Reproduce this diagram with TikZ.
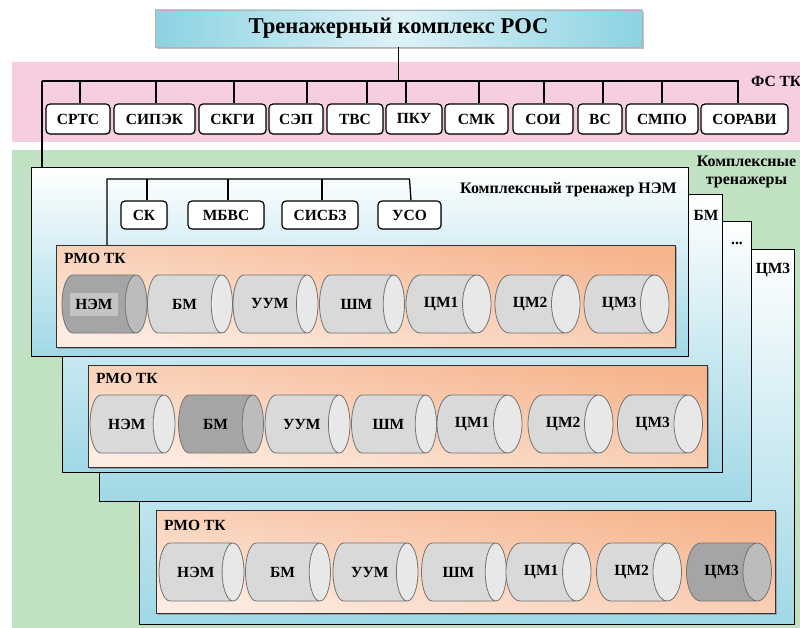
\documentclass[tikz,border=0pt]{standalone}
\usepackage{fontspec}
\setmainfont{Liberation Serif}
\newfontfamily\serifb{Liberation Serif}[BoldFont={Liberation Serif Bold}]
\usetikzlibrary{shapes.geometric,shadows}
\definecolor{pinkbg}{RGB}{247,206,223}
\definecolor{greenbg}{RGB}{193,225,195}
\definecolor{panelblue}{RGB}{160,216,230}
\definecolor{titleedge}{RGB}{140,210,226}
\definecolor{titlemid}{RGB}{222,242,247}
\definecolor{ordark}{RGB}{246,180,140}
\definecolor{orlight}{RGB}{253,236,226}
\definecolor{cylbody}{RGB}{217,217,217}
\definecolor{cylend}{RGB}{232,232,232}
\definecolor{cyldbody}{RGB}{165,165,165}
\definecolor{cyldend}{RGB}{188,188,188}
\definecolor{cylline}{RGB}{115,115,115}
\definecolor{hlbox}{RGB}{196,196,196}
\begin{document}
\begin{tikzpicture}[x=1pt,y=-1pt,
  every node/.style={font=\serifb\bfseries\fontsize{15.5}{17}\selectfont, inner sep=0pt},
  conn/.style={draw=black, line width=1.3pt},
  fsbox/.style={draw=black, line width=1.2pt, rounded corners=4pt, fill=white, minimum height=30pt,
     drop shadow={shadow xshift=1pt, shadow yshift=-1pt, opacity=0.35}},
  panel/.style={draw=black, line width=1pt, anchor=north west, top color=white, bottom color=panelblue},
  rmo/.style={draw=black!80, line width=0.9pt, anchor=north west, top color=ordark, bottom color=orlight, shading angle=-10,
     drop shadow={shadow xshift=1.5pt, shadow yshift=-1.5pt, opacity=0.6}},
  cyl/.style={cylinder, shape aspect=2.1, draw=cylline, line width=0.8pt, cylinder uses custom fill,
     cylinder body fill=cylbody, cylinder end fill=cylend, minimum width=58pt, minimum height=85pt, anchor=shape center},
  cyldark/.style={cyl, cylinder body fill=cyldbody, cylinder end fill=cyldend},
  lbl/.style={anchor=west}
]
\useasboundingbox (0,0) rectangle (800,628);
\fill[white] (0,0) rectangle (800,628);
% bands
\fill[pinkbg] (12,62) rectangle (800,142);
\fill[greenbg] (12,150) rectangle (800,628);
% title
\node[draw=black!30, line width=0.6pt, minimum width=487pt, minimum height=37pt,
  left color=titleedge, right color=titleedge, middle color=titlemid,
  drop shadow={shadow xshift=2pt, shadow yshift=-2pt, opacity=0.5},
  font=\serifb\bfseries\fontsize{22.6}{26}\selectfont] (title) at (398.5,28.5) {Тренажерный комплекс РОС};
% FS boxes
\node[fsbox, minimum width=64pt] (srts) at (78,119) {СРТС};
\node[fsbox, minimum width=81pt] (sipek) at (154.5,119) {СИПЭК};
\node[fsbox, minimum width=67pt] (skgi) at (232.5,119) {СКГИ};
\node[fsbox, minimum width=54pt] (sep) at (296,119) {СЭП};
\node[fsbox, minimum width=56pt] (tvs) at (355,119) {ТВС};
\node[fsbox, minimum width=56pt] (pku) at (414,119) {ПКУ};
\node[fsbox, minimum width=63pt] (smk) at (476.5,119) {СМК};
\node[fsbox, minimum width=60pt] (soi) at (543,119) {СОИ};
\node[fsbox, minimum width=44pt] (vs) at (600,119) {ВС};
\node[fsbox, minimum width=72pt] (smpo) at (662,119) {СМПО};
\node[fsbox, minimum width=87pt] (soravi) at (744.5,119) {СОРАВИ};
\node[lbl] (fstk) at (751,81) {ФС ТК};
\coordinate (busL) at (42,81);
\coordinate (busR) at (738,81);
\draw[conn] (title.south) -- (title.south |- busL);
\draw[conn] (busL) -- (busR) -- (busR |- soravi.north);
\draw[conn] ([xshift=2pt]srts.north) -- ([xshift=2pt]srts.north |- busL);
\draw[conn] ([xshift=1.5pt]sipek.north) -- ([xshift=1.5pt]sipek.north |- busL);
\draw[conn] ([xshift=1.5pt]skgi.north) -- ([xshift=1.5pt]skgi.north |- busL);
\draw[conn] ([xshift=11pt]sep.north) -- ([xshift=11pt]sep.north |- busL);
\draw[conn] ([xshift=12pt]tvs.north) -- ([xshift=12pt]tvs.north |- busL);
\draw[conn] ([xshift=-8pt]pku.north) -- ([xshift=-8pt]pku.north |- busL);
\draw[conn] ([xshift=2.5pt]smk.north) -- ([xshift=2.5pt]smk.north |- busL);
\draw[conn] ([xshift=1pt]soi.north) -- ([xshift=1pt]soi.north |- busL);
\draw[conn] ([xshift=3pt]vs.north) -- ([xshift=3pt]vs.north |- busL);
\draw[conn] (smpo.north) -- (smpo.north |- busL);
% complex trainers label
\node[align=center, font=\serifb\bfseries\fontsize{16}{18}\selectfont] (kt) at (746.5,172) {Комплексные\\тренажеры};
% panels back to front
\node[panel, minimum width=655pt, minimum height=375pt] (pC) at (139,249) {};
\node[panel, minimum width=652pt, minimum height=280pt] (pD) at (99,221) {};
\node[panel, minimum width=660pt, minimum height=278pt] (pB) at (62,194) {};
\node[panel, minimum width=657pt, minimum height=189pt] (pA) at (31,167) {};
\node (lC) at (773,270) {ЦМ3};
\node (lD) at (737,243) {...};
\node (lB) at (706,215) {БМ};
\node[anchor=east, font=\serifb\bfseries\fontsize{16}{18}\selectfont] (lA) at (677,190) {Комплексный тренажер НЭМ};
\draw[conn] (busL) -- (busL |- pA.north);
% NEM panel top boxes
\node[fsbox, minimum width=46pt, minimum height=28pt] (sk) at (144,215) {СК};
\node[fsbox, minimum width=76pt, minimum height=28pt] (mbvs) at (226,215) {МБВС};
\node[fsbox, minimum width=76pt, minimum height=28pt] (sisbz) at (320,215) {СИСБЗ};
\node[fsbox, minimum width=63pt, minimum height=28pt] (uso) at (409.5,215) {УСО};
% RMO boxes
\node[rmo, minimum width=619pt, minimum height=102pt] (rA) at (56,245) {};
\node[rmo, minimum width=619pt, minimum height=102pt] (rB) at (88,365) {};
\node[rmo, minimum width=619pt, minimum height=103pt] (rC) at (156,510) {};
\node[lbl] (rAl) at (64,258) {РМО ТК};
\node[lbl] (rBl) at (96,378) {РМО ТК};
\node[lbl] (rCl) at (164,525) {РМО ТК};
\coordinate (ibus) at (107,179);
\draw[conn] (rA.north -| ibus) -- (ibus) -- (ibus -| uso.north) -- ([xshift=1.5pt]uso.north);
\draw[conn] ([xshift=3pt]sk.north) -- ([xshift=3pt]sk.north |- ibus);
\draw[conn] ([xshift=2pt]mbvs.north) -- ([xshift=2pt]mbvs.north |- ibus);
\draw[conn] ([xshift=2pt]sisbz.north) -- ([xshift=2pt]sisbz.north |- ibus);
% cylinders panel A
\node[cyldark] (a1) at (104.5,304) {\phantom{НЭМ}};
\node[fill=hlbox, minimum width=48pt, minimum height=23pt] (a1l) at (94,304.5) {НЭМ};
\foreach \n/\x/\t in {2/190/БМ,3/275.5/УУМ,4/362/ШМ,5/448.5/ЦМ1,6/537.5/ЦМ2,7/626.5/ЦМ3}
  \node[cyl] (a\n) at (\x,304) {\t};
% panel B
\foreach \n/\x/\t in {1/132.5/НЭМ,3/307.5/УУМ,4/394/ШМ,5/479.5/ЦМ1,6/570.5/ЦМ2,7/660/ЦМ3}
  \node[cyl] (b\n) at (\x,424) {\t};
\node[cyldark] (b2) at (221,424) {БМ};
% panel C
\foreach \n/\x/\t in {1/201.5/НЭМ,2/288/БМ,3/375.5/УУМ,4/464/ШМ,5/548.5/ЦМ1,6/639/ЦМ2}
  \node[cyl] (c\n) at (\x,572) {\t};
\node[cyldark] (c7) at (729,572) {ЦМ3};
\end{tikzpicture}
\end{document}
